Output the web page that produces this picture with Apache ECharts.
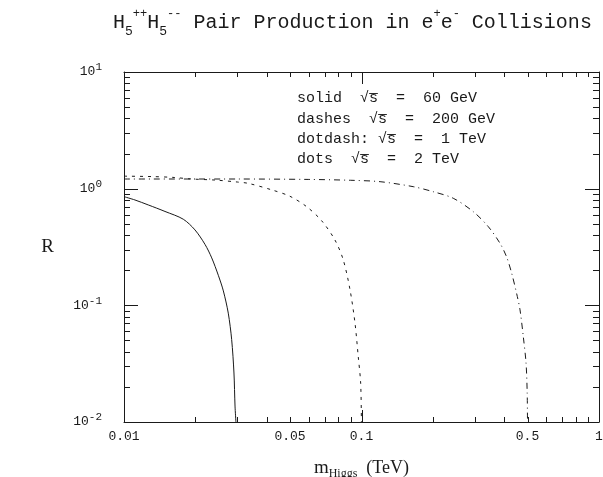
<!DOCTYPE html>
<html>
<head>
<meta charset="utf-8">
<script src="https://cdn.jsdelivr.net/npm/echarts@6/dist/echarts.min.js"></script>
<style>
  html, body { margin: 0; padding: 0; background: #fff; }
  #chart { width: 603px; height: 477px; }
</style>
</head>
<body>
<div id="chart"></div>
<script>
// Ratio R for H5++ H5-- pair production versus Higgs mass (TeV)
// sqrt(s) = 60 GeV (solid)
const mass60 = [0.01, 0.01112, 0.01266, 0.01488, 0.01777, 0.0199, 0.02193, 0.02341, 0.02495, 0.0262, 0.02748, 0.0284, 0.02904, 0.02934, 0.0296];
const ratio60 = [0.854, 0.80, 0.725, 0.638, 0.547, 0.443, 0.333, 0.255, 0.181, 0.133, 0.0857, 0.0509, 0.0263, 0.0137, 0.010];

// sqrt(s) = 200 GeV (dashes)
const mass200 = [0.01, 0.013, 0.016, 0.0193, 0.0242, 0.03, 0.0334, 0.042, 0.05, 0.0588, 0.068, 0.0773, 0.0838, 0.0895, 0.0939, 0.0969, 0.0992, 0.0999];
const ratio200 = [1.28, 1.27, 1.25, 1.21, 1.185, 1.14, 1.11, 0.975, 0.86, 0.70, 0.53, 0.363, 0.245, 0.1355, 0.0703, 0.0363, 0.0215, 0.010];

// sqrt(s) = 1 TeV (dot-dash)
const mass1000 = [0.01, 0.03, 0.06, 0.09, 0.1197, 0.1652, 0.2004, 0.2435, 0.2956, 0.342, 0.383, 0.408, 0.429, 0.453, 0.465, 0.48, 0.493, 0.4985, 0.4999];
const ratio1000 = [1.21, 1.21, 1.2, 1.18, 1.148, 1.04, 0.942, 0.827, 0.635, 0.472, 0.34, 0.261, 0.188, 0.119, 0.0914, 0.054, 0.0319, 0.0177, 0.010];

// Axis ranges and tick values
const xRange = [0.01, 1];
const yRange = [0.01, 10];
const xMajorTicks = [0.01, 0.1, 1];
const xMinorTicks = [0.02, 0.03, 0.04, 0.05, 0.06, 0.07, 0.08, 0.09, 0.2, 0.3, 0.4, 0.5, 0.6, 0.7, 0.8, 0.9];
const yMajorTicks = [0.01, 0.1, 1, 10];
const yMinorTicks = [0.02, 0.03, 0.04, 0.05, 0.06, 0.07, 0.08, 0.09, 0.2, 0.3, 0.4, 0.5, 0.6, 0.7, 0.8, 0.9, 2, 3, 4, 5, 6, 7, 8, 9];
const xTickLabels = ['0.01', '0.05', '0.1', '0.5', '1'];

// Key text
const keyLines = [
  'solid  √s̅  =  60 GeV',
  'dashes  √s̅  =  200 GeV',
  'dotdash: √s̅  =  1 TeV',
  'dots  √s̅  =  2 TeV'
];

const INK = '#1a1a1a';
const MONO = '"Liberation Mono", "DejaVu Sans Mono", monospace';
const SERIF = '"Liberation Serif", "DejaVu Serif", serif';

function pairs(xs, ys) { return xs.map((x, i) => [x, ys[i]]); }
function crisp(v) { return Math.round(v) + 0.5; }

function xTickRenderer(len) {
  return function (params, api) {
    const v = api.value(0);
    const b = api.coord([v, yRange[0]]);
    const t = api.coord([v, yRange[1]]);
    const x = crisp(b[0]);
    const st = { stroke: INK, lineWidth: 1 };
    return {
      type: 'group',
      children: [
        { type: 'line', shape: { x1: x, y1: b[1], x2: x, y2: b[1] - len }, style: st },
        { type: 'line', shape: { x1: x, y1: t[1], x2: x, y2: t[1] + len }, style: st }
      ]
    };
  };
}

function yTickRenderer(len) {
  return function (params, api) {
    const v = api.value(1);
    const l = api.coord([xRange[0], v]);
    const r = api.coord([xRange[1], v]);
    const y = crisp(l[1]);
    const st = { stroke: INK, lineWidth: 1 };
    return {
      type: 'group',
      children: [
        { type: 'line', shape: { x1: l[0], y1: y, x2: l[0] + len, y2: y }, style: st },
        { type: 'line', shape: { x1: r[0], y1: y, x2: r[0] - len, y2: y }, style: st }
      ]
    };
  };
}

function xLabelRenderer(params, api) {
  const idx = params.dataIndex;
  const p = api.coord([api.value(0), yRange[0]]);
  return {
    type: 'text',
    x: p[0],
    y: p[1] + 15,
    style: {
      text: xTickLabels[idx],
      align: 'center',
      verticalAlign: 'middle',
      font: '13px ' + MONO,
      fill: INK
    }
  };
}

const lineBase = {
  type: 'line',
  showSymbol: false,
  symbol: 'none',
  smooth: 0.3,
  silent: true,
  clip: true
};

const chart = echarts.init(document.getElementById('chart'), null, { renderer: 'canvas' });

const yAxisCommon = {
  type: 'log',
  logBase: 10,
  min: yRange[0],
  max: yRange[1],
  axisLine: { show: true, lineStyle: { color: INK, width: 1 } },
  axisTick: { show: false },
  splitLine: { show: false },
  minorTick: { show: false }
};
const xAxisCommon = {
  type: 'log',
  logBase: 10,
  min: xRange[0],
  max: xRange[1],
  axisLine: { show: true, lineStyle: { color: INK, width: 1 } },
  axisTick: { show: false },
  splitLine: { show: false },
  minorTick: { show: false }
};

chart.setOption({
  animation: false,
  backgroundColor: '#fff',
  title: {
    text: '{n|H}{sub|5}{sup|++}{n|H}{sub|5}{sup|--}{n| Pair Production in e}{sup|+}{n|e}{sup|-}{n| Collisions}',
    left: 108,
    top: 3,
    textStyle: {
      fontWeight: 'normal',
      rich: {
        n: { fontFamily: MONO, fontSize: 20, fontWeight: 'normal', color: INK, lineHeight: 30, verticalAlign: 'middle' },
        sup: { fontFamily: MONO, fontSize: 12, fontWeight: 'normal', color: INK, lineHeight: 30, verticalAlign: 'top' },
        sub: { fontFamily: MONO, fontSize: 13, fontWeight: 'normal', color: INK, lineHeight: 30, verticalAlign: 'bottom' }
      }
    }
  },
  grid: { left: 124, right: 4, top: 72, bottom: 55, containLabel: false, outerBoundsMode: 'none' },
  xAxis: [
    Object.assign({}, xAxisCommon, {
      position: 'bottom',
      axisLabel: { show: false },
      name: '{m|m}{sub|Higgs}{n|  (TeV)}',
      nameLocation: 'middle',
      nameGap: 34,
      nameTextStyle: {
        rich: {
          m: { fontFamily: SERIF, fontSize: 19, color: INK, lineHeight: 24, verticalAlign: 'middle' },
          sub: { fontFamily: SERIF, fontSize: 12, color: INK, lineHeight: 24, verticalAlign: 'bottom' },
          n: { fontFamily: SERIF, fontSize: 18, color: INK, lineHeight: 24, verticalAlign: 'middle' }
        }
      }
    }),
    Object.assign({}, xAxisCommon, { position: 'top', axisLabel: { show: false } })
  ],
  yAxis: [
    Object.assign({}, yAxisCommon, {
      position: 'left',
      axisLabel: {
        show: true,
        margin: 22,
        formatter: function (v) {
          const e = Math.round(Math.log10(v));
          return '{b|10}{sup|' + (e < 0 ? '-' + (-e) : e) + '}';
        },
        rich: {
          b: { fontFamily: MONO, fontSize: 13, color: INK, lineHeight: 20, verticalAlign: 'middle' },
          sup: { fontFamily: MONO, fontSize: 11, color: INK, lineHeight: 20, verticalAlign: 'top' }
        }
      },
      name: 'R',
      nameLocation: 'middle',
      nameRotate: 0,
      nameGap: 70,
      nameTextStyle: { fontFamily: SERIF, fontSize: 19, color: INK }
    }),
    Object.assign({}, yAxisCommon, { position: 'right', axisLabel: { show: false } })
  ],
  graphic: keyLines.map((t, i) => ({
    type: 'text',
    left: 297,
    top: 91 + i * 20.3,
    silent: true,
    style: { text: t, font: '15px ' + MONO, fill: INK }
  })),
  series: [
    Object.assign({}, lineBase, {
      name: '60 GeV',
      data: pairs(mass60, ratio60),
      lineStyle: { color: INK, width: 1, type: 'solid' }
    }),
    Object.assign({}, lineBase, {
      name: '200 GeV',
      data: pairs(mass200, ratio200),
      lineStyle: { color: INK, width: 1, type: [3, 5] }
    }),
    Object.assign({}, lineBase, {
      name: '1 TeV',
      data: pairs(mass1000, ratio1000),
      lineStyle: { color: INK, width: 1, type: [6, 4, 1, 4] }
    }),
    {
      type: 'custom', silent: true, clip: false,
      data: xMajorTicks.map(v => [v, yRange[0]]),
      renderItem: xTickRenderer(12)
    },
    {
      type: 'custom', silent: true, clip: false,
      data: xMinorTicks.map(v => [v, yRange[0]]),
      renderItem: xTickRenderer(5)
    },
    {
      type: 'custom', silent: true, clip: false,
      data: yMajorTicks.map(v => [xRange[0], v]),
      renderItem: yTickRenderer(14)
    },
    {
      type: 'custom', silent: true, clip: false,
      data: yMinorTicks.map(v => [xRange[0], v]),
      renderItem: yTickRenderer(6)
    },
    {
      type: 'custom', silent: true, clip: false,
      data: xTickLabels.map(s => [parseFloat(s), yRange[0]]),
      renderItem: xLabelRenderer
    }
  ]
});
</script>
</body>
</html>
